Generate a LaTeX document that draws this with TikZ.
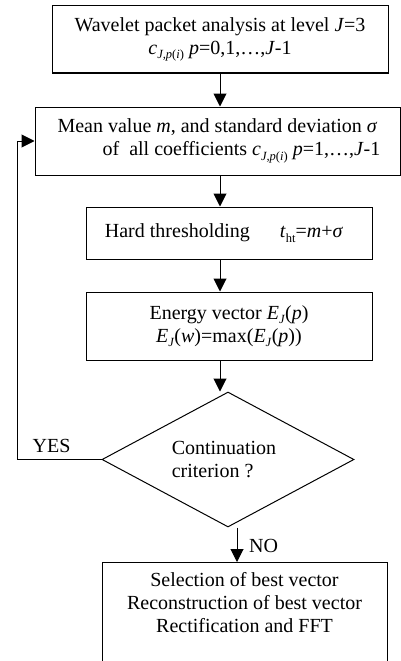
\documentclass[tikz,border=0pt]{standalone}
\usepackage{fontspec}
\setmainfont{Liberation Serif}
\usetikzlibrary{shapes.geometric,arrows.meta}
\newcommand\subsc[1]{\raisebox{-0.22em}{\fontsize{12.5}{12.5}\selectfont #1}}
\begin{document}
\begin{tikzpicture}[x=1pt,y=-1pt,
  every node/.style={font=\fontsize{20}{23}\selectfont},
  box/.style={draw,line width=1pt,rectangle,inner sep=0pt,align=center},
  arr/.style={line width=1pt,-{Triangle[length=13pt,width=13pt]}},
  ln/.style={line width=1pt}]
\useasboundingbox (0,0) rectangle (401,661);
\node[box,minimum width=336,minimum height=67] (b1) at (220,39.5)
  {Wavelet packet analysis at level \textit{J}=3\\
   \textit{c}\subsc{\textit{J,p}(\textit{i})} \textit{p}=0,1,\ldots,\textit{J}-1};
\node[box,minimum width=365,minimum height=68] (b2) at (217.5,141)
  {Mean value \textit{m}, and standard deviation \textit{σ}\\
   \hspace*{48pt}of\ \ all coefficients \textit{c}\subsc{\textit{J,p}(\textit{i})} \textit{p}=1,\ldots,\textit{J}-1};
\node[box,minimum width=286,minimum height=52] (b3) at (229,233)
  {\hspace*{-10pt}Hard thresholding\hspace{30pt}\textit{t}\subsc{ht}=\textit{m}+\textit{σ}};
\node[box,minimum width=286,minimum height=68] (b4) at (229,326)
  {Energy vector \textit{E}\subsc{\textit{J}}(\textit{p})\\
   \textit{E}\subsc{\textit{J}}(\textit{w})=max(\textit{E}\subsc{\textit{J}}(\textit{p}))};
\node[draw,line width=1pt,diamond,aspect=1.867,minimum width=252,minimum height=135,
  inner sep=0pt,align=left] (dia) at (228,459.5)
  {\hspace*{-8pt}Continuation\\\hspace*{-8pt}criterion ?};
\node[box,anchor=north,minimum width=285,text depth=75pt,inner ysep=10pt] (b5) at (244.5,562)
  {Selection of best vector\\Reconstruction of best vector\\Rectification and FFT};
\draw[arr] (b1.south) -- (b1.south |- b2.north);
\draw[arr] (b2.south -| b1.south) -- (b3.north -| b1.south);
\draw[arr] (b3.south -| b1.south) -- (b4.north -| b1.south);
\draw[arr] (b4.south -| b1.south) -- (b1.south |- dia.north);
\draw[arr] ([xshift=9pt]dia.south) -- ([xshift=9pt]dia.south |- b5.north);
\draw[arr] (dia.west) -- ++(-84,0) |- (b2.west);
\node[anchor=base] (yes) at (51.5,452) {YES};
\node[anchor=base west,inner sep=0pt] (no) at (249,552) {NO};
\end{tikzpicture}
\end{document}
